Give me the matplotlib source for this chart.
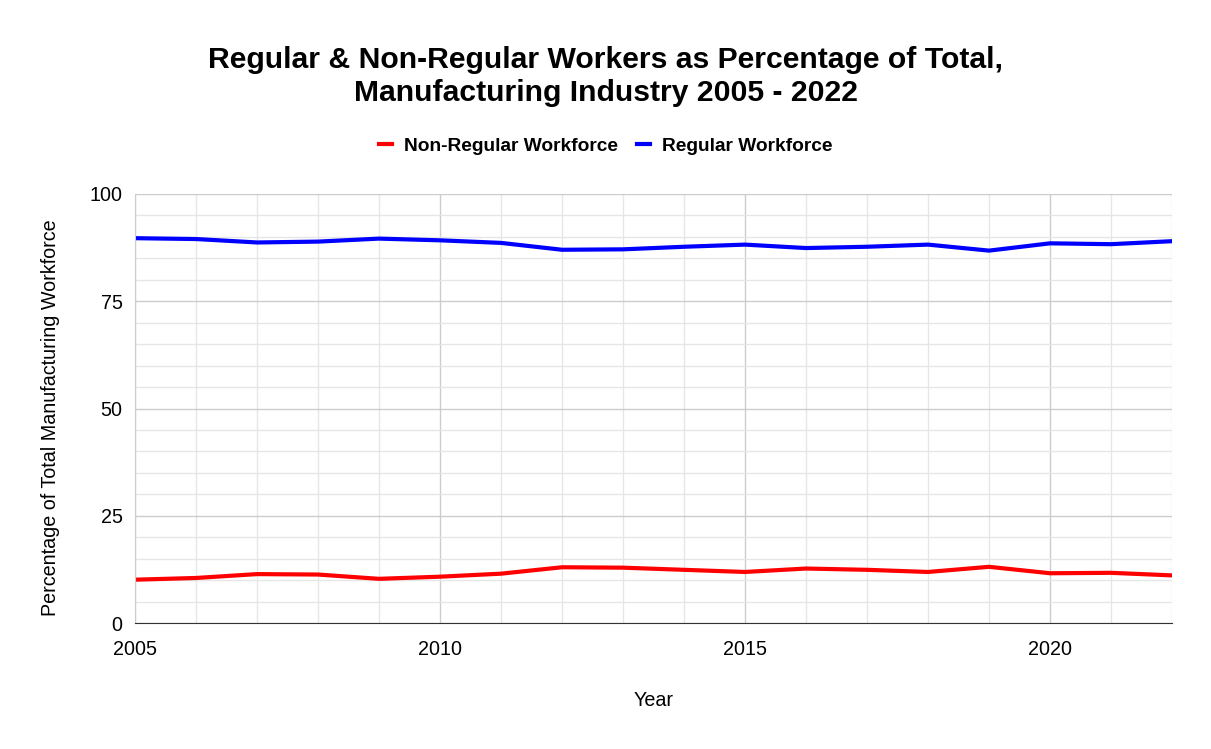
import numpy as np
import matplotlib
matplotlib.use("Agg")
import matplotlib.pyplot as plt
from matplotlib.ticker import MultipleLocator

plt.rcParams['font.family'] = ['Liberation Sans', 'DejaVu Sans']

years = np.arange(2005, 2023)
non_regular = [10.1, 10.5, 11.4, 11.3, 10.3, 10.8, 11.5, 13.0, 12.9, 12.4,
               11.9, 12.7, 12.4, 11.9, 13.1, 11.6, 11.7, 11.1]
regular = [89.7, 89.5, 88.7, 88.9, 89.6, 89.2, 88.6, 87.0, 87.1, 87.7,
           88.2, 87.4, 87.7, 88.2, 86.8, 88.5, 88.3, 89.0]

fig = plt.figure(figsize=(12.11, 7.49), dpi=100)
ax = fig.add_axes([0.1115, 0.1682, 0.8563, 0.5728])

ax.plot(years, non_regular, color='#ff0000', lw=3, label='Non-Regular Workforce')
ax.plot(years, regular, color='#0000ff', lw=3, label='Regular Workforce')

ax.set_xlim(2005, 2022)
ax.set_ylim(0, 100)
ax.xaxis.set_major_locator(MultipleLocator(5))
ax.xaxis.set_minor_locator(MultipleLocator(1))
ax.yaxis.set_major_locator(MultipleLocator(25))
ax.yaxis.set_minor_locator(MultipleLocator(5))
ax.grid(which='major', color='#cccccc', lw=1)
ax.grid(which='minor', color='#e6e6e6', lw=1)
ax.set_axisbelow(True)
ax.tick_params(which='both', length=0, labelsize=14.2, colors='black')
ax.tick_params(axis='x', pad=12)
ax.tick_params(axis='y', pad=9)
for s in ['top', 'right']:
    ax.spines[s].set_visible(False)
ax.spines['left'].set_color('#cccccc')
ax.spines['bottom'].set_color('#333333')

ax.set_xlabel('Year', fontsize=14.2, labelpad=23)
ax.set_ylabel('Percentage of Total Manufacturing Workforce', fontsize=14.2)
ax.yaxis.set_label_coords(-0.0724, 0.478)

fig.suptitle('Regular & Non-Regular Workers as Percentage of Total,\nManufacturing Industry 2005 - 2022',
             fontsize=21.7, fontweight='bold', y=0.939, linespacing=1.25)
fig.legend(loc='center', bbox_to_anchor=(0.5, 0.805), ncol=2, frameon=False,
           prop={'weight': 'bold', 'size': 13.8}, handlelength=0.7, handletextpad=0.6,
           columnspacing=1.0)

fig.savefig('out.png', dpi=100)
